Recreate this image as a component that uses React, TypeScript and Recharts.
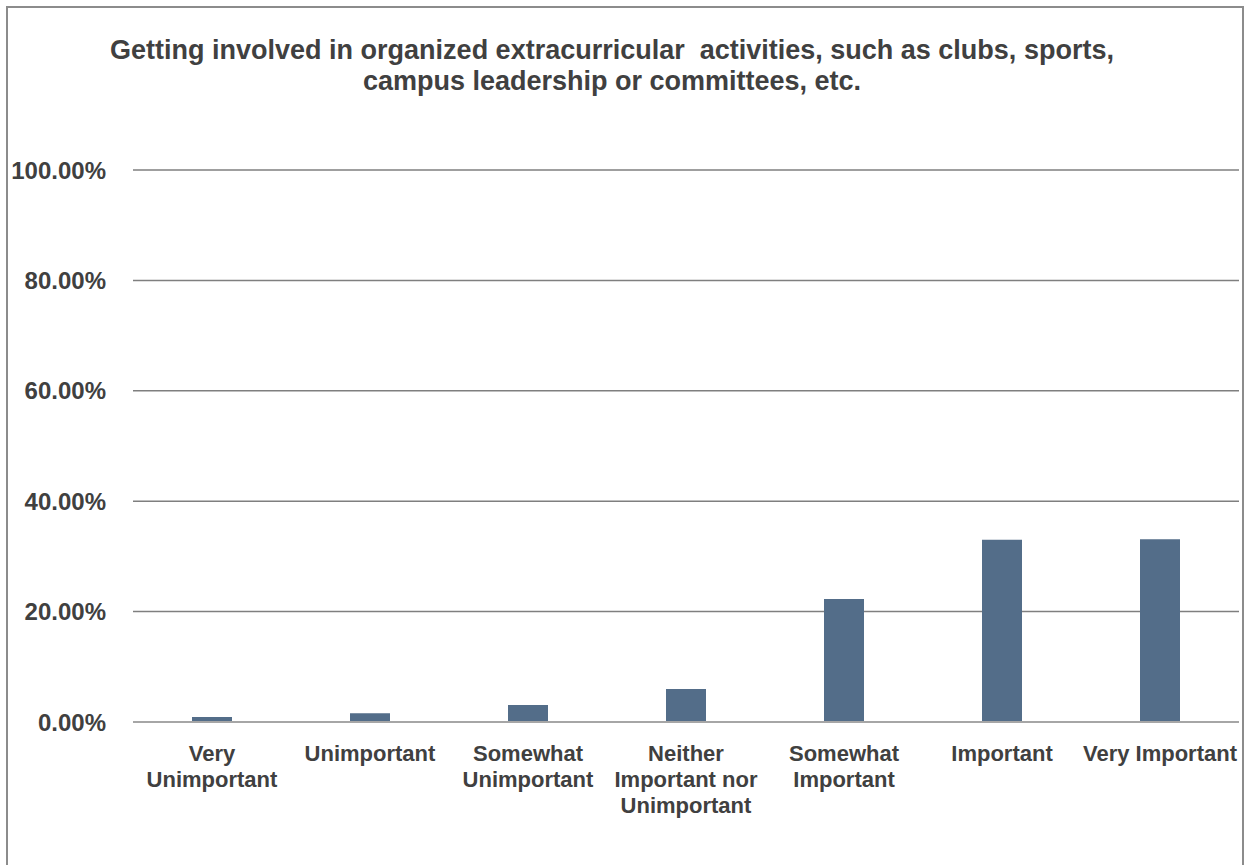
import React from 'react';
import { BarChart, Bar, XAxis, YAxis, CartesianGrid } from 'recharts';

const categories = [
  'Very Unimportant',
  'Unimportant',
  'Somewhat Unimportant',
  'Neither Important nor Unimportant',
  'Somewhat Important',
  'Important',
  'Very Important',
];
const tickLines = [
  ['Very', 'Unimportant'],
  ['Unimportant'],
  ['Somewhat', 'Unimportant'],
  ['Neither', 'Important nor', 'Unimportant'],
  ['Somewhat', 'Important'],
  ['Important'],
  ['Very Important'],
];
const shares = [0.9, 1.6, 3.1, 6.0, 22.3, 33.0, 33.1];
const yTicks = [0, 20, 40, 60, 80, 100];

const titleLines = [
  'Getting involved in organized extracurricular  activities, such as clubs, sports,',
  'campus leadership or committees, etc.',
];

const data = categories.map((name, i) => ({ name, value: shares[i] }));

const FONT = "'Liberation Sans', Arial, sans-serif";
const TEXT = '#404040';

function CategoryTick({ x, y, payload }: any) {
  const lines = tickLines[payload.index] || [payload.value];
  return (
    <text x={x} y={y + 39} textAnchor="middle" fill={TEXT} fontFamily={FONT} fontWeight="bold" fontSize={22}>
      {lines.map((l, i) => (
        <tspan key={i} x={x} dy={i === 0 ? 0 : 26}>
          {l}
        </tspan>
      ))}
    </text>
  );
}

export default function App() {
  return (
    <div style={{ position: 'absolute', left: 0, top: 0, width: 1247, height: 865, overflow: 'hidden', background: '#fff' }}>
      <div
        style={{
          position: 'absolute',
          left: 6,
          top: 6,
          width: 1234,
          height: 900,
          borderLeft: '2px solid #8c8c8c',
          borderTop: '2px solid #8c8c8c',
          borderRight: '2px solid #8c8c8c',
        }}
      />
      <div
        style={{
          position: 'absolute',
          left: 0,
          top: 35,
          width: 1224,
          textAlign: 'center',
          fontFamily: FONT,
          fontWeight: 'bold',
          fontSize: 27,
          lineHeight: '31px',
          color: TEXT,
          whiteSpace: 'pre',
        }}
      >
        {titleLines.map((t, i) => (
          <div key={i}>{t}</div>
        ))}
      </div>
      <div style={{ position: 'absolute', left: 0, top: 0 }}>
        <BarChart width={1247} height={865} data={data} margin={{ top: 170, right: 8, bottom: 13, left: 0 }}>
          <CartesianGrid vertical={false} stroke="#7f7f7f" strokeWidth={1.5} />
          <XAxis
            dataKey="name"
            height={130}
            tickLine={false}
            tickSize={0}
            tickMargin={0}
            axisLine={{ stroke: '#a6a6a6', strokeWidth: 2 }}
            tick={<CategoryTick />}
            interval={0}
          />
          <YAxis
            width={133}
            domain={[0, 100]}
            ticks={yTicks}
            tickLine={false}
            axisLine={false}
            tickSize={0}
            tickMargin={27}
            tickFormatter={(v) => `${v.toFixed(2)}%`}
            tick={{ fill: TEXT, fontFamily: FONT, fontWeight: 'bold', fontSize: 24 }}
          />
          <Bar dataKey="value" fill="#536d89" barSize={40} isAnimationActive={false} />
        </BarChart>
      </div>
    </div>
  );
}
